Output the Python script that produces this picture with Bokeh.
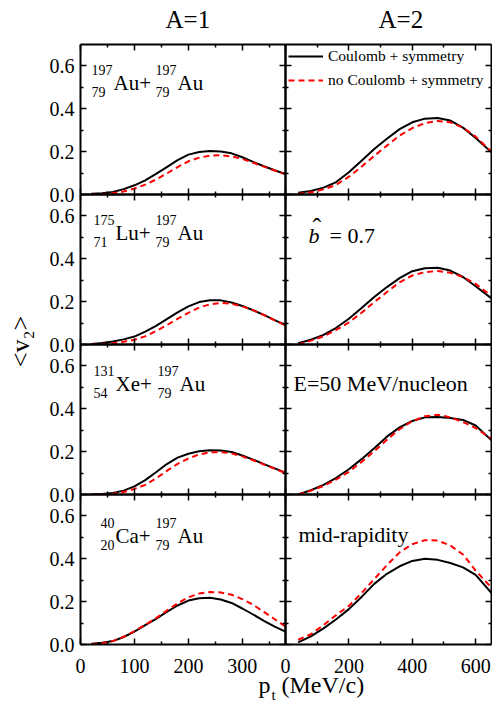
import math
from bokeh.plotting import figure
from bokeh.models import Range1d, LinearAxis, FixedTicker, Label, Legend, LegendItem, NumeralTickFormatter
from bokeh.layouts import row, column
from bokeh.embed import file_html
from bokeh.resources import INLINE

FONT = "Liberation Serif"

# ---------------- data ----------------
pt_A1 = [20, 40, 60, 80, 100, 120, 140, 160, 180, 200, 220, 240, 260, 280, 300, 320, 340, 360, 380]
pt_A2 = [40, 80, 120, 160, 200, 240, 280, 320, 360, 400, 440, 480, 520, 560, 600, 650]

AuAu_A1_coul   = [0.003, 0.006, 0.012, 0.025, 0.043, 0.066, 0.096, 0.128, 0.160, 0.186, 0.198, 0.203, 0.201, 0.192, 0.174, 0.152, 0.132, 0.113, 0.095]
AuAu_A1_nocoul = [0.000, 0.002, 0.006, 0.014, 0.028, 0.046, 0.070, 0.098, 0.128, 0.155, 0.172, 0.181, 0.183, 0.178, 0.166, 0.148, 0.130, 0.112, 0.095]
LuAu_A1_coul   = [0.002, 0.007, 0.014, 0.024, 0.037, 0.060, 0.087, 0.118, 0.150, 0.178, 0.198, 0.207, 0.206, 0.196, 0.180, 0.160, 0.138, 0.114, 0.090]
LuAu_A1_nocoul = [0.000, 0.002, 0.006, 0.013, 0.022, 0.038, 0.063, 0.090, 0.120, 0.148, 0.172, 0.188, 0.194, 0.190, 0.178, 0.160, 0.137, 0.113, 0.090]
XeAu_A1_coul   = [0.000, 0.002, 0.007, 0.018, 0.038, 0.067, 0.104, 0.142, 0.172, 0.190, 0.202, 0.207, 0.205, 0.198, 0.182, 0.163, 0.142, 0.122, 0.102]
XeAu_A1_nocoul = [0.000, 0.001, 0.004, 0.012, 0.026, 0.045, 0.075, 0.110, 0.143, 0.168, 0.187, 0.197, 0.198, 0.192, 0.178, 0.160, 0.140, 0.120, 0.100]
CaAu_A1_coul   = [0.003, 0.008, 0.016, 0.035, 0.060, 0.090, 0.120, 0.152, 0.182, 0.205, 0.216, 0.218, 0.210, 0.194, 0.168, 0.140, 0.110, 0.083, 0.060]
CaAu_A1_nocoul = [0.000, 0.006, 0.016, 0.036, 0.062, 0.092, 0.123, 0.158, 0.192, 0.220, 0.238, 0.245, 0.243, 0.232, 0.212, 0.185, 0.152, 0.118, 0.084]

AuAu_A2_coul   = [0.008, 0.016, 0.032, 0.058, 0.104, 0.158, 0.212, 0.260, 0.305, 0.337, 0.354, 0.357, 0.345, 0.312, 0.264, 0.197]
AuAu_A2_nocoul = [0.003, 0.010, 0.024, 0.045, 0.083, 0.130, 0.180, 0.228, 0.275, 0.310, 0.333, 0.343, 0.337, 0.312, 0.270, 0.200]
LuAu_A2_coul   = [0.006, 0.022, 0.045, 0.078, 0.120, 0.170, 0.222, 0.268, 0.310, 0.342, 0.356, 0.358, 0.345, 0.315, 0.272, 0.215]
LuAu_A2_nocoul = [0.000, 0.018, 0.038, 0.068, 0.103, 0.148, 0.198, 0.245, 0.290, 0.322, 0.338, 0.343, 0.335, 0.315, 0.283, 0.225]
XeAu_A2_coul   = [0.000, 0.020, 0.045, 0.078, 0.118, 0.165, 0.216, 0.270, 0.313, 0.343, 0.360, 0.362, 0.357, 0.348, 0.322, 0.253]
XeAu_A2_nocoul = [0.000, 0.018, 0.040, 0.070, 0.106, 0.152, 0.202, 0.255, 0.305, 0.342, 0.365, 0.372, 0.360, 0.338, 0.310, 0.260]
CaAu_A2_coul   = [0.010, 0.038, 0.075, 0.118, 0.165, 0.222, 0.283, 0.330, 0.365, 0.390, 0.400, 0.395, 0.380, 0.360, 0.325, 0.240]
CaAu_A2_nocoul = [0.022, 0.048, 0.090, 0.138, 0.180, 0.240, 0.305, 0.370, 0.430, 0.468, 0.487, 0.485, 0.462, 0.420, 0.345, 0.265]

x_ticks_A1 = [0, 100, 200, 300]
x_minor_A1 = [50, 150, 250, 350]
x_ticks_A2 = [0, 200, 400, 600]
x_minor_A2 = [100, 300, 500]
y_ticks = [0.0, 0.2, 0.4, 0.6]
y_minor = [0.1, 0.3, 0.5]
x_max = [380, 650]
y_max = 0.7

column_titles = ["A=1", "A=2"]
legend_labels = ["Coulomb + symmetry", "no Coulomb + symmetry"]
nuclides = [
    (("197", "79", "Au+"), ("197", "79", "Au")),
    (("175", "71", "Lu+"), ("197", "79", "Au")),
    (("131", "54", "Xe+"), ("197", "79", "Au")),
    (("40", "20", "Ca+"), ("197", "79", "Au")),
]
right_notes = [None, "b_hat", "E=50 MeV/nucleon", "mid-rapidity"]

series_A1 = [(AuAu_A1_coul, AuAu_A1_nocoul), (LuAu_A1_coul, LuAu_A1_nocoul),
             (XeAu_A1_coul, XeAu_A1_nocoul), (CaAu_A1_coul, CaAu_A1_nocoul)]
series_A2 = [(AuAu_A2_coul, AuAu_A2_nocoul), (LuAu_A2_coul, LuAu_A2_nocoul),
             (XeAu_A2_coul, XeAu_A2_nocoul), (CaAu_A2_coul, CaAu_A2_nocoul)]

# ---------------- layout constants (page pixels) ----------------
FWS = [205, 206]          # frame widths of the two columns
FH = 150                  # frame height of every panel
OV = 12                   # overlapping border size
YLAB_W = 40               # width of the y-title strip
FRAME_LEFT = [80, 285]    # page x of each column's frame
STRIP_H = 67              # bottom strip: tick labels + x title (page y 644..711)
PAGE_H = 711


def blank_fig(w, h, xr, yr):
    p = figure(width=w, height=h, x_range=Range1d(*xr), y_range=Range1d(*yr),
               output_backend="svg", toolbar_location=None, title=None, min_border=0,
               x_axis_location=None, y_axis_location=None, outline_line_color=None,
               border_fill_color=None, background_fill_color=None)
    p.grid.visible = False
    return p


def style_axis(ax, show_labels, fmt=None):
    ax.axis_line_width = 2
    ax.axis_line_color = "black"
    ax.major_tick_in = 6
    ax.major_tick_out = 0
    ax.minor_tick_in = 3
    ax.minor_tick_out = 0
    ax.major_tick_line_width = 1.5
    ax.minor_tick_line_width = 1.5
    ax.major_tick_line_color = "black"
    ax.minor_tick_line_color = "black"
    ax.major_label_text_font = FONT
    ax.major_label_text_color = "black"
    ax.major_label_text_font_size = "20px"
    ax.major_label_standoff = 6
    if fmt is not None:
        ax.formatter = fmt
    if not show_labels:
        ax.major_label_text_font_size = "0px"
        ax.major_label_standoff = 0
        try:
            ax.major_label_text_color = None
        except Exception:
            ax.major_label_text_alpha = 0


def put(p, col, xoff, yoff, text, size, italic=False):
    xm = x_max[col]
    p.add_layout(Label(x=xoff * xm / FWS[col], y=y_max - yoff * y_max / FH, text=text,
                       text_font=FONT, text_font_size=f"{size}px",
                       text_font_style="italic" if italic else "normal",
                       text_align="left", text_baseline="alphabetic", text_color="black"))


def make_panel(col, r):
    bl = FRAME_LEFT[0] - YLAB_W if col == 0 else OV
    br = OV if col == 0 else 1
    bt = 2 if r == 0 else OV
    bb = OV
    p = figure(width=bl + FWS[col] + br, height=bt + FH + bb,
               x_range=Range1d(0, x_max[col]), y_range=Range1d(0, y_max),
               output_backend="svg", toolbar_location=None, title=None,
               x_axis_location=None, y_axis_location=None,
               min_border_left=bl, min_border_right=br,
               min_border_top=bt, min_border_bottom=bb,
               outline_line_color=None, border_fill_color=None,
               background_fill_color=None)
    p.grid.visible = False
    xt, xm = (x_ticks_A1, x_minor_A1) if col == 0 else (x_ticks_A2, x_minor_A2)
    for side in ["below", "above"]:
        ax = LinearAxis(ticker=FixedTicker(ticks=xt, minor_ticks=xm))
        style_axis(ax, False)
        p.add_layout(ax, side)
    for side in ["left", "right"]:
        ax = LinearAxis(ticker=FixedTicker(ticks=y_ticks, minor_ticks=y_minor))
        style_axis(ax, side == "left" and col == 0, NumeralTickFormatter(format="0.0"))
        p.add_layout(ax, side)

    pts = pt_A1 if col == 0 else pt_A2
    coul, nocoul = (series_A1 if col == 0 else series_A2)[r]
    r1 = p.line(pts, coul, line_color="black", line_width=2)
    r2 = p.line(pts, nocoul, line_color="#ff0000", line_width=2, line_dash="6 4")

    if col == 0:
        elem_x = [(33, 97), (35, 97), (35, 99), (35, 97)][r]
        base = [38.5, 38.5, 39.5, 41.5][r]
        for (mass, charge, sym), ex in zip(nuclides[r], elem_x):
            sw = max(len(mass), len(charge)) * 0.5 * 14
            put(p, col, ex - sw - 1, base - 13.5, mass, 14)
            put(p, col, ex - sw - 1, base + 8.5, charge, 14)
            put(p, col, ex, base, sym, 21)
    else:
        note = right_notes[r]
        if r == 0:
            leg = Legend(items=[LegendItem(label=legend_labels[0], renderers=[r1]),
                                LegendItem(label=legend_labels[1], renderers=[r2])],
                         location="top_left", border_line_color=None,
                         background_fill_alpha=0, label_text_font=FONT,
                         label_text_font_size="15.5px", label_text_color="black",
                         glyph_width=35, glyph_height=16, label_height=16,
                         spacing=6, padding=0, margin=3, label_standoff=5)
            p.add_layout(leg)
        elif note == "b_hat":
            put(p, col, 23, 41, "b", 22, italic=True)
            put(p, col, 27, 33, "\u02c6", 26)
            put(p, col, 44, 41, "= 0.7", 22)
        else:
            put(p, col, 8 if r == 2 else 13, 38.5 if r == 2 else 40, note, 22)
    return p


rows = []
for r in range(4):
    left = make_panel(0, r)
    right = make_panel(1, r)
    right.margin = (0, 0, 0, -2 * OV)
    rr = row(left, right)
    if r > 0:
        rr.margin = (-2 * OV, 0, 0, 0)
    rows.append(rr)

# column titles strip (page y 0..42, x 40..492)
tlab = blank_fig(452, 42, (YLAB_W, 492), (0, 42))
tlab.add_layout(Label(x=165, y=10, text=column_titles[0], text_font=FONT,
                      text_font_size="25px", text_color="black"))
tlab.add_layout(Label(x=378, y=10, text=column_titles[1], text_font=FONT,
                      text_font_size="25px", text_color="black"))

# y-axis title strip (page y 0..711)
ylab = blank_fig(YLAB_W, PAGE_H, (0, YLAB_W), (0, PAGE_H))
ylab.add_layout(Label(x=20, y=PAGE_H - 341, text="<v\u2082>", angle=math.pi / 2,
                      text_font=FONT, text_font_size="26px", text_align="center",
                      text_baseline="middle", text_color="black"))

# bottom strip: x tick labels of the bottom row + x-axis title (page y 644..711)
xlab = blank_fig(452, STRIP_H, (YLAB_W, 492), (0, STRIP_H))
xlab.margin = (-OV, 0, 0, 0)
for col, ticks in enumerate([x_ticks_A1, x_ticks_A2]):
    for t in ticks:
        px = FRAME_LEFT[col] + t * FWS[col] / x_max[col]
        txt = f"{t:d}"
        half = len(txt) * 0.25 * 20  # half of the label width (digits are 0.5 em)
        xlab.add_layout(Label(x=px - half, y=PAGE_H - 665, text=txt, text_font=FONT,
                              text_font_size="20px", text_align="left",
                              text_baseline="alphabetic", text_color="black"))
xlab.add_layout(Label(x=258, y=PAGE_H - 697, text="p", text_font=FONT, text_font_size="24px", text_color="black"))
xlab.add_layout(Label(x=271, y=PAGE_H - 702, text="t", text_font=FONT, text_font_size="15px", text_color="black"))
xlab.add_layout(Label(x=281, y=PAGE_H - 697, text="(MeV/c)", text_font=FONT, text_font_size="24px", text_color="black"))

layout = row(ylab, column(tlab, *rows, xlab))

open("out.html", "w").write(file_html(layout, INLINE))
